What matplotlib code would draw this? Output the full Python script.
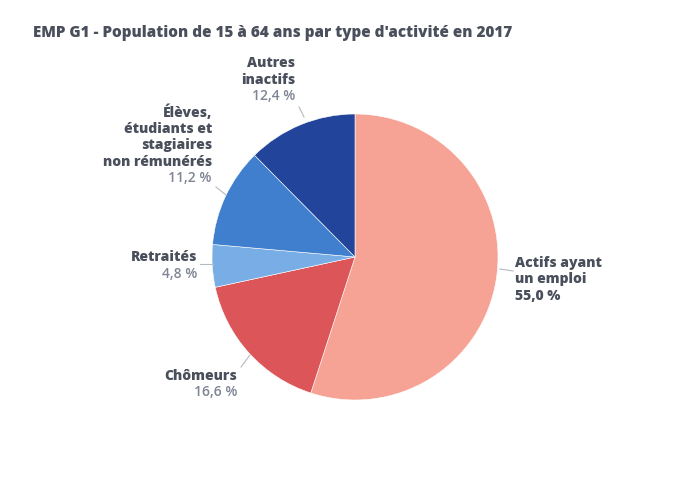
import matplotlib.pyplot as plt

# data
labels = ["Actifs ayant\nun emploi", "Chômeurs", "Retraités",
          "Élèves,\nétudiants et\nstagiaires\nnon rémunérés", "Autres\ninactifs"]
values = [55.0, 16.6, 4.8, 11.2, 12.4]
colors = ["#F6A294", "#DC5558", "#78ADE5", "#3F7FCE", "#22449A"]

# label layout in pixels: x, first-line center y, alignment, leader line
cx, cy, r = 355, 258, 143
label_pos = [(515, 263, "left", [(500, 270), (513, 272)]),
             (237, 376, "right", [(241, 368), (250, 356)]),
             (197, 257, "right", [(200, 265), (213, 265)]),
             (212, 112, "right", [(216, 188), (226, 196)]),
             (295, 63, "right", [(299, 108), (304, 118)])]

plt.rcParams['font.family'] = ['Open Sans', 'DejaVu Sans']
fig = plt.figure(figsize=(6.92, 5.02), dpi=100)
ax = fig.add_axes([(cx - r) / 692, (502 - cy - r) / 502, 2 * r / 692, 2 * r / 502])
ax.pie(values, colors=colors, startangle=90, counterclock=False,
       wedgeprops=dict(edgecolor="white", linewidth=0.4))
ax.set_xlim(-1, 1)
ax.set_ylim(-1, 1)
ax.set_aspect("equal")
ax.axis("off")


def to_data(px, py):
    return (px - cx) / r, (cy - py) / r


step = 16.5
dark = "#4A4F5C"
light = "#7F8594"
for lab, val, (x, y, ha, line) in zip(labels, values, label_pos):
    rows = lab.split("\n")
    for i, row in enumerate(rows):
        tx, ty = to_data(x, y + i * step)
        ax.text(tx, ty, row, ha=ha, va="center", fontsize=10, fontweight="heavy",
                color=dark, clip_on=False)
    pct = f"{val:.1f} %".replace(".", ",")
    tx, ty = to_data(x, y + len(rows) * step)
    is_big = val > 50
    ax.text(tx, ty, pct, ha=ha, va="center", fontsize=10,
            fontweight="heavy" if is_big else "semibold",
            color=dark if is_big else light, clip_on=False)
    (x0, y0), (x1, y1) = to_data(*line[0]), to_data(*line[1])
    ax.plot([x0, x1], [y0, y1], color="#B5B9C0", lw=0.8, clip_on=False)

fig.text(33 / 692, 1 - 33 / 502, "EMP G1 - Population de 15 à 64 ans par type d'activité en 2017",
         ha="left", va="center", fontsize=11, fontweight="heavy", color=dark)

fig.savefig("out.png", dpi=100)
